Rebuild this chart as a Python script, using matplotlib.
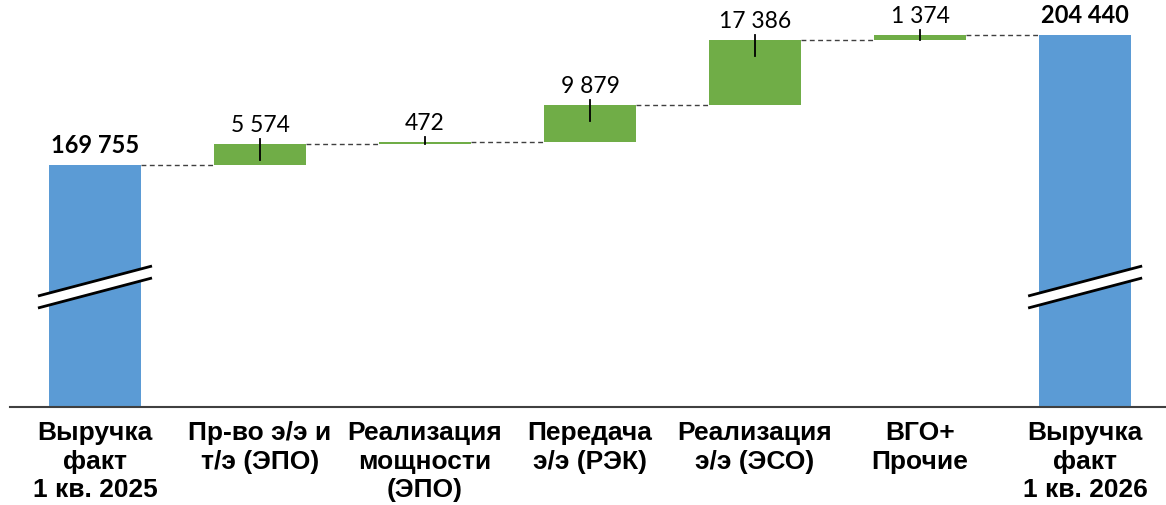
import matplotlib
matplotlib.use("Agg")
import matplotlib.pyplot as plt
from matplotlib.transforms import blended_transform_factory
from matplotlib.patches import Polygon

categories = ["Выручка\nфакт\n1 кв. 2025", "Пр-во э/э и\nт/э (ЭПО)", "Реализация\nмощности\n(ЭПО)",
              "Передача\nэ/э (РЭК)", "Реализация\nэ/э (ЭСО)", "ВГО+\nПрочие", "Выручка\nфакт\n1 кв. 2026"]
start_total = 169755
deltas = [5574, 472, 9879, 17386, 1374]
end_total = 204440
labels = ["169 755", "5 574", "472", "9 879", "17 386", "1 374", "204 440"]

BLUE = "#5B9BD5"
GREEN = "#70AD47"

fig = plt.figure(figsize=(11.66, 5.05), dpi=100)
ax = fig.add_axes([10 / 1166, 98 / 505, 1 - 10 / 1166, 407 / 505])
ymin, ymax = 105190, 213780
ax.set_xlim(-0.515, 6.49)
ax.set_ylim(ymin, ymax)

w = 0.557
n = len(categories)
# totals
ax.bar([0], [start_total - ymin], bottom=ymin, width=w, color=BLUE, zorder=2)
ax.bar([n - 1], [end_total - ymin], bottom=ymin, width=w, color=BLUE, zorder=2)

# deltas
bottoms = []
cur = start_total
for d in deltas:
    bottoms.append(cur)
    cur += d
xs = list(range(1, 1 + len(deltas)))
ax.bar(xs, deltas, bottom=bottoms, width=w, color=GREEN, zorder=2)

# connectors
levels = [start_total] + [b + d for b, d in zip(bottoms, deltas)]
for i, lv in enumerate(levels):
    ax.plot([i + w / 2, i + 1 - w / 2], [lv, lv], ls=(0, (3.5, 2.5)), color="#404040", lw=1.0, zorder=1)

# tick marks on delta bars
px = (ymax - ymin) / 407.0
for x, b, d in zip(xs, bottoms, deltas):
    top = b + d
    ax.plot([x, x], [top + 5 * px, max(b, top - 16 * px)], color="black", lw=1.3, zorder=3)

# value labels
tops = [start_total] + [b + d for b, d in zip(bottoms, deltas)] + [end_total]
for i, (t, lab) in enumerate(zip(tops, labels)):
    bold = i in (0, n - 1)
    ax.annotate(lab, (i, t), xytext=(0, 8.6), textcoords="offset points", ha="center", va="baseline",
                fontsize=17 if bold else 16.5, family="Lato", fontweight="bold" if bold else "normal",
                color="black")

# break marks
tr = blended_transform_factory(ax.transData, ax.transAxes)
dx = 57 / 165.0
for xc in (0, n - 1):
    y1a, y1b = 0.2727, 0.3464
    y2a, y2b = 0.2432, 0.3170
    poly = Polygon([[xc - dx, y1a], [xc + dx, y1b], [xc + dx, y2b], [xc - dx, y2a]], closed=True,
                   facecolor="white", edgecolor="none", transform=tr, zorder=4)
    ax.add_patch(poly)
    ax.plot([xc - dx, xc + dx], [y1a, y1b], color="black", lw=2, transform=tr, zorder=5, solid_capstyle="butt")
    ax.plot([xc - dx, xc + dx], [y2a, y2b], color="black", lw=2, transform=tr, zorder=5, solid_capstyle="butt")

ax.set_xticks(range(n))
ax.set_xticklabels(categories, fontsize=19, fontweight="bold", family="Liberation Sans", linespacing=1.25)
ax.tick_params(axis="x", length=0, pad=10)
ax.set_yticks([])
for s in ("top", "left", "right"):
    ax.spines[s].set_visible(False)
ax.spines["bottom"].set_color("#404040")
ax.spines["bottom"].set_linewidth(1.5)
ax.patch.set_alpha(0)

fig.savefig("out.png", dpi=100)
